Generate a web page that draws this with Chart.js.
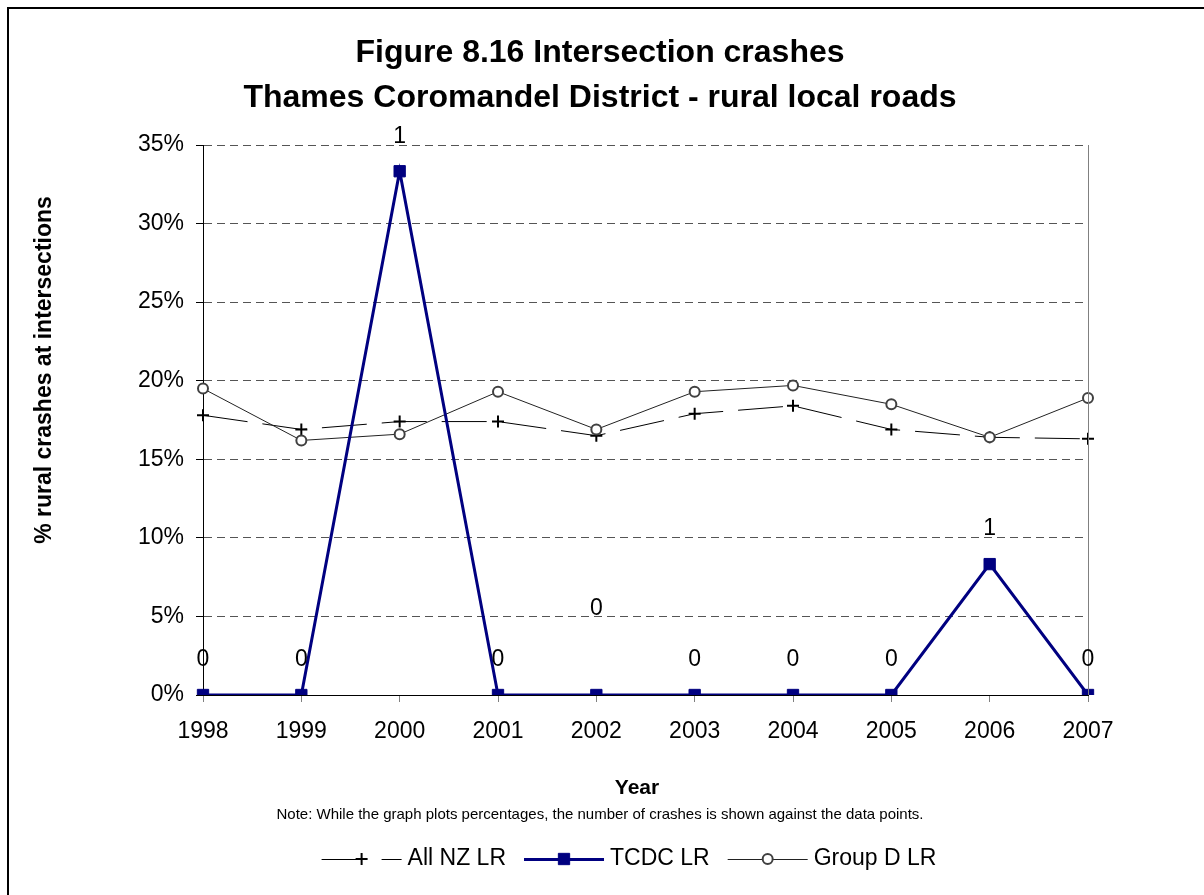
<!DOCTYPE html>
<html>
<head>
<meta charset="utf-8">
<script src="https://cdn.jsdelivr.net/npm/chart.js@4/dist/chart.umd.min.js"></script>
<style>
    body { margin: 0; background: #fff; }
    #wrap { width: 1204px; height: 895px; }
</style>
</head>
<body>
<div id="wrap"><canvas id="myChart" width="1204" height="895"></canvas></div>
<script>
    // Values (percent of rural crashes at intersections)
    const years = ['1998', '1999', '2000', '2001', '2002', '2003', '2004', '2005', '2006', '2007'];
    const allNzLR = [17.8, 16.9, 17.4, 17.4, 16.5, 17.9, 18.4, 16.9, 16.4, 16.3];
    const tcdcLR = [0, 0, 33.33, 0, 0, 0, 0, 0, 8.33, 0];
    const tcdcCrashes = [0, 0, 1, 0, 0, 0, 0, 0, 1, 0];
    const groupDLR = [19.5, 16.2, 16.6, 19.3, 16.9, 19.3, 19.7, 18.5, 16.4, 18.9];
    const yTickMax = 35;
    const yTickStep = 5;

    const titleLines = ['Figure 8.16 Intersection crashes', 'Thames Coromandel District - rural local roads'];
    const yTitle = '% rural crashes at intersections';
    const xTitle = 'Year';
    const noteText = 'Note: While the graph plots percentages, the number of crashes is shown against the data points.';

    const FONT = "'Liberation Sans', Arial, sans-serif";
    const NAVY = '#000080';

    // draws titles, note, frame, crash-count labels and the legend
    const decorPlugin = {
        id: 'decor',
        afterDraw(chart) {
            const ctx = chart.ctx;
            const area = chart.chartArea;
            ctx.save();

            // outer chart border (runs off the right/bottom edge)
            ctx.strokeStyle = '#000';
            ctx.lineWidth = 2;
            ctx.strokeRect(8, 8, 1300, 1000);

            // right edge of plot area
            ctx.strokeStyle = '#808080';
            ctx.lineWidth = 1;
            ctx.beginPath();
            ctx.moveTo(Math.round(area.right) + 0.5, area.top);
            ctx.lineTo(Math.round(area.right) + 0.5, area.bottom);
            ctx.stroke();

            ctx.fillStyle = '#000';
            ctx.textAlign = 'center';
            ctx.textBaseline = 'middle';

            ctx.font = 'bold 32px ' + FONT;
            ctx.fillText(titleLines[0], 600, 53);
            ctx.fillText(titleLines[1], 600, 98);

            ctx.font = 'bold 21px ' + FONT;
            ctx.fillText(xTitle, 637, 788);

            ctx.font = '15px ' + FONT;
            ctx.fillText(noteText, 600, 815);

            ctx.save();
            ctx.translate(45, 370);
            ctx.rotate(-Math.PI / 2);
            ctx.font = 'bold 23px ' + FONT;
            ctx.fillText(yTitle, 0, 0);
            ctx.restore();

            // crash counts against the TCDC points
            const meta = chart.getDatasetMeta(1);
            ctx.font = '23px ' + FONT;
            meta.data.forEach((pt, i) => {
                let lift = 35;
                if (i === 4) lift = 86;
                ctx.fillText(String(tcdcCrashes[i]), pt.x, pt.y - lift);
            });

            // legend
            const items = chart.data.datasets;
            const lineLen = 80, gap = 6, itemGap = 18;
            ctx.font = '23px ' + FONT;
            let total = 0;
            items.forEach((ds, i) => {
                total += lineLen + gap + ctx.measureText(ds.label).width;
                if (i < items.length - 1) total += itemGap;
            });
            let x = 629 - total / 2;
            const ly = 859;
            items.forEach(ds => {
                ctx.save();
                ctx.strokeStyle = ds.borderColor;
                ctx.lineWidth = ds.borderWidth;
                ctx.setLineDash(ds.borderDash || []);
                ctx.beginPath();
                ctx.moveTo(x, ly + 0.5);
                ctx.lineTo(x + lineLen, ly + 0.5);
                ctx.stroke();
                ctx.setLineDash([]);
                ctx.fillStyle = ds.pointBackgroundColor;
                ctx.strokeStyle = ds.pointBorderColor;
                ctx.lineWidth = ds.pointBorderWidth;
                Chart.helpers.drawPoint(ctx, {
                    pointStyle: ds.pointStyle, radius: ds.pointRadius,
                    borderWidth: ds.pointBorderWidth, rotation: 0
                }, x + lineLen / 2, ly);
                ctx.restore();
                ctx.fillStyle = '#000';
                ctx.textAlign = 'left';
                ctx.fillText(ds.label, x + lineLen + gap, ly);
                x += lineLen + gap + ctx.measureText(ds.label).width + itemGap;
            });

            ctx.restore();
        }
    };

    const ctx = document.getElementById('myChart').getContext('2d');
    new Chart(ctx, {
        type: 'line',
        data: {
            labels: years,
            datasets: [
                {
                    label: 'All NZ LR', data: allNzLR, order: 2,
                    borderColor: '#000', borderWidth: 1, borderDash: [45, 15],
                    pointStyle: 'cross', pointRadius: 6, pointBorderWidth: 2,
                    pointBorderColor: '#000', pointBackgroundColor: '#000'
                },
                {
                    label: 'TCDC LR', data: tcdcLR, order: 0,
                    borderColor: NAVY, borderWidth: 3,
                    pointStyle: 'rect', pointRadius: 8, pointBorderWidth: 1,
                    pointBorderColor: NAVY, pointBackgroundColor: NAVY
                },
                {
                    label: 'Group D LR', data: groupDLR, order: 1,
                    borderColor: '#222', borderWidth: 1,
                    pointStyle: 'circle', pointRadius: 5, pointBorderWidth: 2,
                    pointBorderColor: '#404040', pointBackgroundColor: '#fff'
                }
            ]
        },
        options: {
            responsive: false,
            animation: false,
            layout: { padding: { left: 0, top: 145, right: 116, bottom: 140 } },
            elements: { line: { tension: 0, fill: false } },
            scales: {
                x: {
                    offset: false,
                    grid: { drawOnChartArea: false, tickLength: 7, tickColor: '#808080', color: '#808080' },
                    border: { display: true, color: '#000', width: 1 },
                    ticks: { color: '#000', font: { family: FONT, size: 23 }, padding: 16, maxRotation: 0, autoSkip: false },
                    afterFit(scale) { scale.height = 60; }
                },
                y: {
                    min: 0, max: yTickMax,
                    grid: { color: '#555', lineWidth: 1, tickLength: 7, tickColor: '#000', tickBorderDash: [] },
                    border: { display: true, color: '#000', width: 1, dash: [8, 5] },
                    ticks: {
                        stepSize: yTickStep, color: '#000', padding: 12,
                        font: { family: FONT, size: 23 },
                        callback: v => v + '%'
                    },
                    afterFit(scale) { scale.width = 203; }
                }
            },
            plugins: {
                legend: { display: false },
                tooltip: { enabled: false },
                title: { display: false }
            }
        },
        plugins: [decorPlugin]
    });
</script>
</body>
</html>
